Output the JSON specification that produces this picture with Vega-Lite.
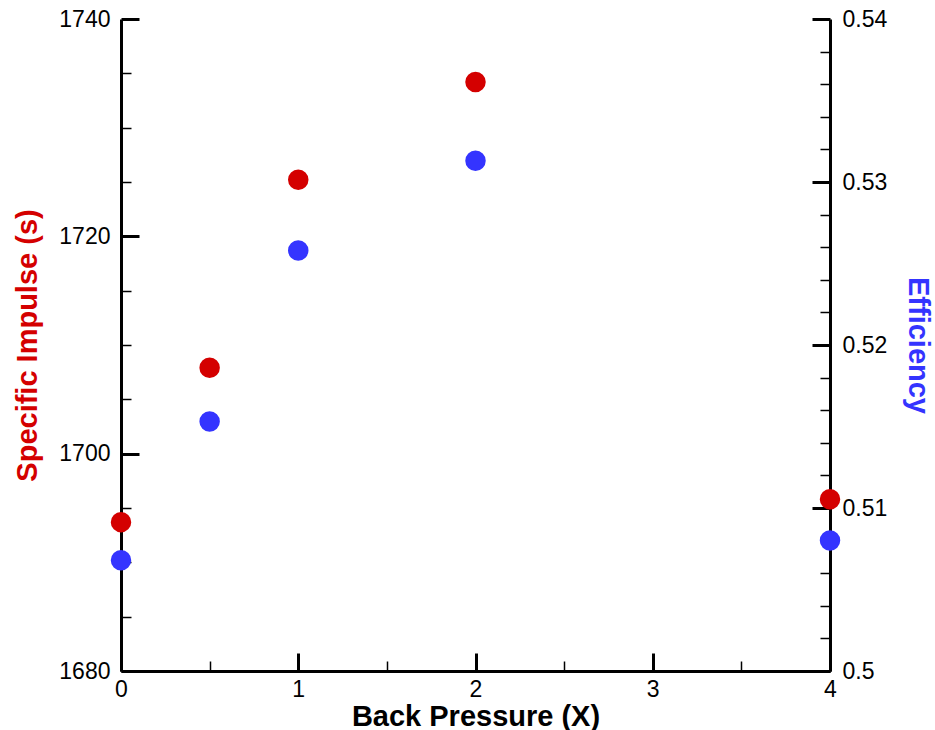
{
  "$schema": "https://vega.github.io/schema/vega-lite/v6.json",
  "autosize": "none",
  "width": 709,
  "height": 652,
  "padding": {"left": 121, "top": 19, "right": 105, "bottom": 59},
  "background": "white",
  "config": {
    "view": {"stroke": null},
    "axis": {
      "labelFont": "Liberation Sans",
      "labelFontSize": 23,
      "labelColor": "black",
      "labelFlush": false,
      "titleFont": "Liberation Sans",
      "titleFontSize": 29,
      "titleFontWeight": "bold",
      "domainColor": "black",
      "domainWidth": 3,
      "tickColor": "black",
      "grid": false
    }
  },
  "data": {
    "values": [
      {"bp": 0, "isp": 1693.7, "eff": 0.5068},
      {"bp": 0.5, "isp": 1707.9, "eff": 0.5153},
      {"bp": 1, "isp": 1725.2, "eff": 0.5258},
      {"bp": 2, "isp": 1734.2, "eff": 0.5313},
      {"bp": 4, "isp": 1695.8, "eff": 0.5080}
    ]
  },
  "layer": [
    {
      "mark": {"type": "point", "filled": true, "opacity": 1, "size": 420, "color": "#d40000"},
      "encoding": {
        "x": {
          "field": "bp", "type": "quantitative",
          "scale": {"domain": [0, 4], "nice": false, "zero": false},
          "axis": {
            "orient": "bottom", "values": [0, 1, 2, 3, 4], "format": "d",
            "tickSize": -18, "tickWidth": 3, "labelPadding": 25,
            "title": "Back Pressure (X)", "titlePadding": 1, "titleColor": "black"
          }
        },
        "y": {
          "field": "isp", "type": "quantitative",
          "scale": {"domain": [1680, 1740], "nice": false, "zero": false},
          "axis": {
            "orient": "left", "values": [1680, 1700, 1720, 1740], "format": "d",
            "tickSize": -18, "tickWidth": 3, "labelPadding": 29,
            "title": "Specific Impulse (s)", "titleColor": "#d40000", "titlePadding": 16
          }
        }
      }
    },
    {
      "mark": {"type": "point", "filled": true, "opacity": 1, "size": 420, "color": "#3434ff"},
      "encoding": {
        "x": {
          "field": "bp", "type": "quantitative",
          "scale": {"domain": [0, 4], "nice": false, "zero": false},
          "axis": {
            "orient": "bottom", "values": [0.5, 1.5, 2.5, 3.5],
            "tickSize": -10, "tickWidth": 1.5, "labels": false, "domain": false, "title": null
          }
        },
        "y": {
          "field": "eff", "type": "quantitative",
          "scale": {"domain": [0.5, 0.54], "nice": false, "zero": false},
          "axis": {
            "orient": "right", "values": [0.5, 0.51, 0.52, 0.53, 0.54], "format": "~g",
            "tickSize": -18, "tickWidth": 3, "labelPadding": 30,
            "title": "Efficiency", "titleColor": "#3434ff", "titlePadding": 16
          }
        }
      }
    },
    {
      "mark": {"type": "point", "filled": true, "opacity": 0, "size": 420},
      "encoding": {
        "x": {"field": "bp", "type": "quantitative", "axis": null},
        "y": {
          "field": "isp", "type": "quantitative",
          "scale": {"domain": [1680, 1740], "nice": false, "zero": false},
          "axis": {
            "orient": "left",
            "values": [1685, 1690, 1695, 1705, 1710, 1715, 1725, 1730, 1735],
            "tickSize": -10, "tickWidth": 1.5, "labels": false, "domain": false, "title": null
          }
        }
      }
    },
    {
      "mark": {"type": "point", "filled": true, "opacity": 0, "size": 420},
      "encoding": {
        "x": {"field": "bp", "type": "quantitative", "axis": null},
        "y": {
          "field": "eff", "type": "quantitative",
          "scale": {"domain": [0.5, 0.54], "nice": false, "zero": false},
          "axis": {
            "orient": "right",
            "values": [0.502, 0.504, 0.506, 0.508, 0.512, 0.514, 0.516, 0.518, 0.522, 0.524, 0.526, 0.528, 0.532, 0.534, 0.536, 0.538],
            "tickSize": -10, "tickWidth": 1.5, "labels": false, "domain": false, "title": null
          }
        }
      }
    }
  ],
  "resolve": {
    "scale": {"y": "independent"},
    "axis": {"x": "independent", "y": "independent"}
  }
}
